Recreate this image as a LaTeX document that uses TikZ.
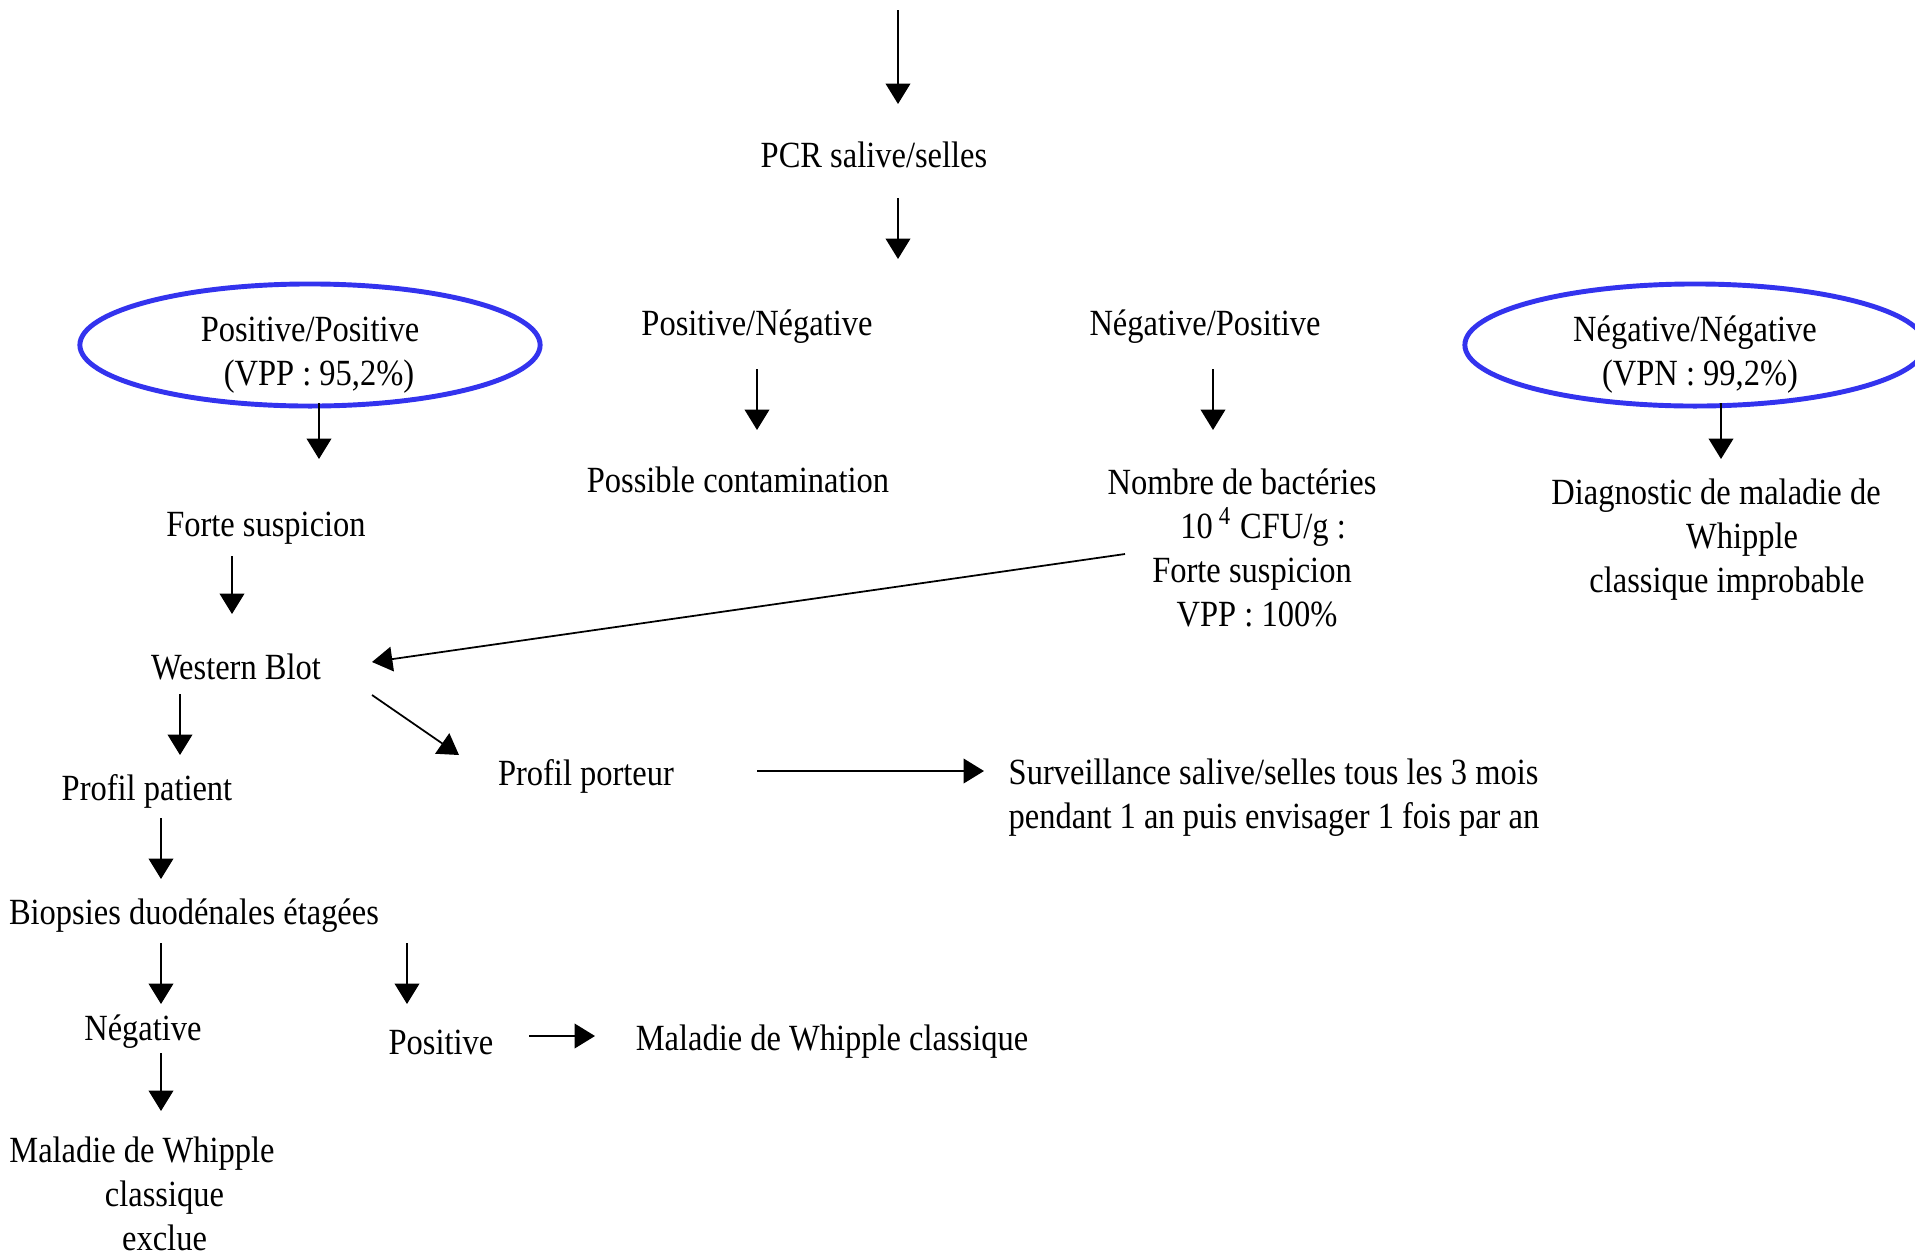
\documentclass[tikz,border=0pt]{standalone}
\usepackage{fontspec}
\setmainfont{Liberation Serif}[FakeStretch=0.88]
\usetikzlibrary{arrows.meta,shapes.geometric}

\definecolor{ovalblue}{RGB}{51,51,238}

\tikzset{
  lbl/.style={inner sep=0pt,align=center,font=\fontsize{10.5}{12.5}\selectfont},
  arr/.style={-{Triangle[width=7pt,length=5.8pt]},line width=0.5pt},
  oval/.style={ellipse,draw=ovalblue,line width=1.4pt,inner ysep=-1.8pt,minimum width=4.6cm,minimum height=1.22cm}
}

\begin{document}
\begin{tikzpicture}[x=0.01cm,y=-0.01cm]

% Frame (pixel grid of the scan)
\useasboundingbox (0,0) rectangle (1915,1254);
\clip (0,0) rectangle (1915,1254);

% First test
\node[lbl] (pcr) at (874,155) {PCR salive/selles};

% Four outcomes
\node[lbl,oval] (pospos) at (310,345) {\rule{0pt}{12.5pt}Positive/Positive\\\hspace*{0.18cm}(VPP : 95,2\%)};
\node[lbl] (posneg) at (757,327) {Positive/Négative};
\node[lbl] (negpos) at (1205,327) {Négative/Positive};
\node[lbl,oval] (negneg) at (1695,345) {\rule{0pt}{12.5pt}Négative/Négative\\\hspace*{0.1cm}(VPN : 99,2\%)};

% Interpretation
\node[lbl] (contam) at (738,480) {Possible contamination};
\node[lbl] (nombre) at (1242,548) {Nombre de bactéries\\
  \hspace*{0.42cm}10\,\textsuperscript{4} CFU/g :\\
  \hspace*{0.2cm}Forte suspicion\\
  \hspace*{0.3cm}VPP : 100\%};
\node[lbl] (improb) at (1716,540) {Diagnostic de maladie de\\
  \hspace*{0.52cm}Whipple\\
  \hspace*{0.22cm}classique improbable};
\node[lbl] (forte) at (266,528) {Forte suspicion};

% Western Blot branch
\node[lbl] (wb) at (236,667) {Western Blot};
\node[lbl] (patient) at (147,791) {Profil patient};
\node[lbl] (porteur) at (586,776) {Profil porteur};
\node[lbl,align=left,anchor=west] (surv) at (1008,798)
  {Surveillance salive/selles tous les 3 mois\\pendant 1 an puis envisager 1 fois par an};

% Biopsies
\node[lbl] (biop) at (194,916) {Biopsies duodénales étagées};
\node[lbl] (neg) at (143,1032) {Négative};
\node[lbl] (pos) at (441,1042) {Positive};
\node[lbl] (classique) at (832,1042) {Maladie de Whipple classique};
\node[lbl] (exclue) at (142,1194) {Maladie de Whipple\\
  \hspace*{0.45cm}classique\\
  \hspace*{0.45cm}exclue};

% Arrow ends
\coordinate (pcr-a) at (898,10);    \coordinate (pcr-b) at (898,104);
\coordinate (res-a) at (898,198);   \coordinate (res-b) at (898,259);
\coordinate (pp-a) at (319,403);    \coordinate (pp-b) at (319,459);
\coordinate (pn-a) at (757,369);    \coordinate (pn-b) at (757,430);
\coordinate (np-a) at (1213,369);   \coordinate (np-b) at (1213,430);
\coordinate (nn-a) at (1721,403);   \coordinate (nn-b) at (1721,459);
\coordinate (fs-a) at (232,556);    \coordinate (fs-b) at (232,614);
\coordinate (nb-a) at (1125,554);   \coordinate (nb-b) at (372,662);
\coordinate (wp-a) at (180,694);    \coordinate (wp-b) at (180,755);
\coordinate (wc-a) at (372,695);    \coordinate (wc-b) at (459,755);
\coordinate (po-a) at (757,771);    \coordinate (po-b) at (984,771);
\coordinate (pa-a) at (161,818);    \coordinate (pa-b) at (161,879);
\coordinate (bn-a) at (161,943);    \coordinate (bn-b) at (161,1004);
\coordinate (bp-a) at (407,943);    \coordinate (bp-b) at (407,1004);
\coordinate (ps-a) at (529,1036);   \coordinate (ps-b) at (595,1036);
\coordinate (ng-a) at (161,1053);   \coordinate (ng-b) at (161,1111);

% Connectors
\foreach \c in {pcr,res,pp,pn,np,nn,fs,nb,wp,wc,po,pa,bn,bp,ps,ng}
  \draw[arr] (\c-a) -- (\c-b);

\end{tikzpicture}
\end{document}
